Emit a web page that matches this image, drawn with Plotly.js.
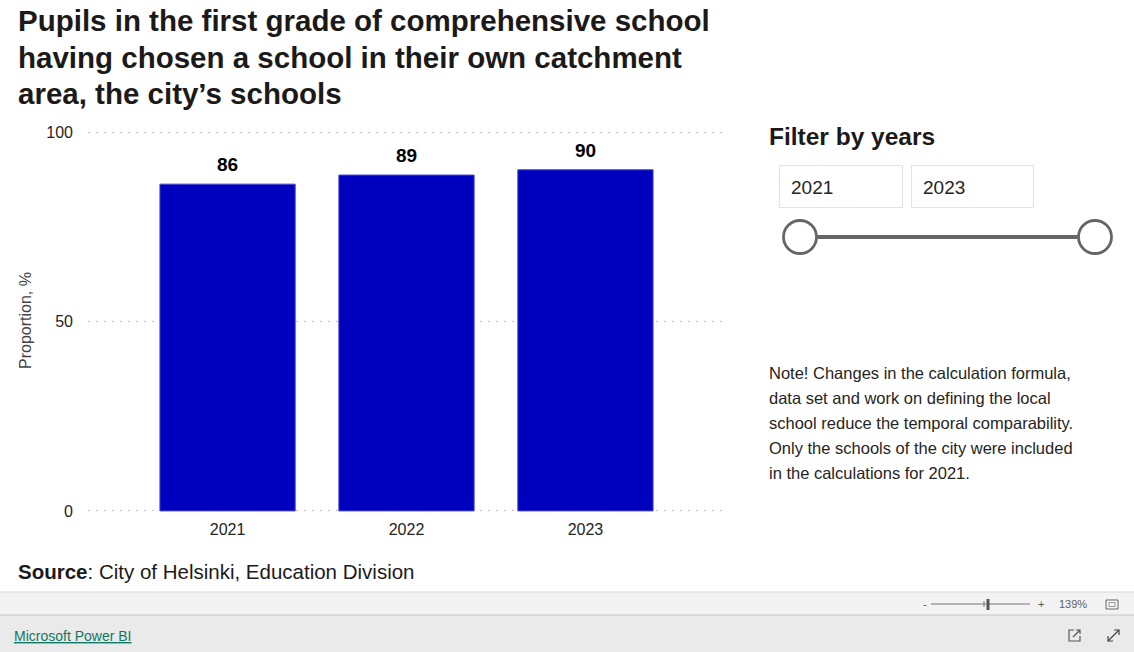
<!DOCTYPE html>
<html>
<head>
<meta charset="utf-8">
<script src="https://cdn.plot.ly/plotly-3.0.1.min.js"></script>
<style>
  html, body { margin: 0; padding: 0; background: #ffffff; }
  #chart { width: 1134px; height: 652px; }
</style>
</head>
<body>
<div id="chart"></div>
<script>
// ---- Data ----
const years = ['2021', '2022', '2023'];
const shares = [86.4, 88.8, 90.2];
const yTickVals = [0, 50, 100];
const yTickText = ['0', '50', '100'];
const filterFrom = '2021';
const filterTo = '2023';
const titleLines = [
  'Pupils in the first grade of comprehensive school',
  'having chosen a school in their own catchment',
  'area, the city\u2019s schools'
];
const noteLines = [
  'Note! Changes in the calculation formula,',
  'data set and work on defining the local',
  'school reduce the temporal comparability.',
  'Only the schools of the city were included',
  'in the calculations for 2021.'
];
const yAxisTitle = 'Proportion, %';
const sourceLabel = 'Source';
const sourceText = ': City of Helsinki, Education Division';

// ---- Layout helpers (pixel -> paper) ----
const W = 1134, H = 652;
const L = 88, R = 725, T = 131, B = 513;
const fx = px => (px - L) / (R - L);
const fy = py => (B - py) / (B - T);
const SANS = 'Liberation Sans, Arial, sans-serif';
const TXT = '#252423';

function label(px, py, text, size, opts) {
  opts = opts || {};
  return Object.assign({
    xref: 'paper', yref: 'paper', x: fx(px), y: fy(py),
    xanchor: 'left', yanchor: 'middle', showarrow: false, text: text,
    borderpad: 0,
    font: { family: SANS, size: size, color: opts.color || TXT }
  }, opts.extra || {});
}
function rect(x0, y0, x1, y1, fill, line, lw) {
  return { type: 'rect', xref: 'paper', yref: 'paper',
    x0: fx(x0), x1: fx(x1), y0: fy(y0), y1: fy(y1),
    fillcolor: fill || 'rgba(0,0,0,0)', line: { color: line || 'rgba(0,0,0,0)', width: lw || 0 }, layer: 'above' };
}
function seg(x0, y0, x1, y1, color, w) {
  return { type: 'line', xref: 'paper', yref: 'paper',
    x0: fx(x0), x1: fx(x1), y0: fy(y0), y1: fy(y1),
    line: { color: color, width: w }, layer: 'above' };
}
function circ(cx, cy, r, fill, color, w) {
  return { type: 'circle', xref: 'paper', yref: 'paper',
    x0: fx(cx - r), x1: fx(cx + r), y0: fy(cy + r), y1: fy(cy - r),
    fillcolor: fill, line: { color: color, width: w }, layer: 'above' };
}
function path(points, color, w, closed) {
  let d = points.map((p, i) => (i ? 'L' : 'M') + fx(p[0]) + ',' + fy(p[1])).join(' ');
  if (closed) d += ' Z';
  return { type: 'path', xref: 'paper', yref: 'paper', path: d,
    line: { color: color, width: w }, layer: 'above' };
}

// ---- Trace ----
const trace = {
  type: 'bar',
  x: years,
  y: shares,
  marker: { color: '#0000BF', line: { color: '#4646d2', width: 1 } },
  hoverinfo: 'x+y',
  cliponaxis: false
};

// ---- Annotations ----
const annotations = [];
titleLines.forEach((t, i) => {
  annotations.push(label(17, 20 + 37 * i, '<b>' + t + '</b>', 29.5, { color: '#1b1a19' }));
});
// value labels on bars (data coordinates: category index, value)
years.forEach((yr, i) => {
  annotations.push({
    xref: 'x', yref: 'y', x: i, y: shares[i], yanchor: 'bottom', xanchor: 'center',
    yshift: 7, showarrow: false,
    text: '<b>' + Math.round(shares[i]) + '</b>',
    font: { family: SANS, size: 19, color: '#000000' }
  });
});
annotations.push(label(25, 321, yAxisTitle, 16, { color: '#444444', extra: { textangle: -90, xanchor: 'center' } }));
annotations.push(label(768, 136, '<b>Filter by years</b>', 24.5, { color: '#1b1a19' }));
annotations.push(label(790, 187, filterFrom, 19));
annotations.push(label(922, 187, filterTo, 19));
noteLines.forEach((t, i) => {
  annotations.push(label(768, 373 + 25 * i, t, 16.5));
});
annotations.push(label(17, 571, '<b>' + sourceLabel + '</b>' + sourceText, 20.5, { color: '#1b1a19' }));
// Power BI chrome text
annotations.push(label(925, 604, '-', 11, { color: '#555555', extra: { xanchor: 'center' } }));
annotations.push(label(1041, 604, '+', 11, { color: '#555555', extra: { xanchor: 'center' } }));
annotations.push(label(1073, 604, '139%', 11, { color: '#605e5c', extra: { xanchor: 'center' } }));
annotations.push(label(13, 636, '<u>Microsoft Power BI</u>', 14, { color: '#117865' }));

// ---- Shapes ----
const shapes = [];
// filter boxes
shapes.push(rect(779.5, 165.5, 902.5, 207.5, '#ffffff', '#e3e3e3', 1.2));
shapes.push(rect(911.5, 165.5, 1033.5, 207.5, '#ffffff', '#e3e3e3', 1.2));
// slider
shapes.push(seg(800, 237, 1095, 237, '#666666', 4));
shapes.push(circ(800, 237, 16.5, '#ffffff', '#666666', 2.8));
shapes.push(circ(1095, 237, 16.5, '#ffffff', '#666666', 2.8));
// bottom bars
shapes.push(rect(0, 592, W, 615, '#f3f3f3', null, 0));
shapes.push(rect(0, 615, W, H, '#eaeaea', null, 0));
shapes.push(seg(0, 592, W, 592, '#dadada', 1));
shapes.push(seg(0, 615, W, 615, '#c6c6c6', 1));
// zoom slider widget
shapes.push(seg(931, 604, 1030, 604, '#777777', 1));
shapes.push(seg(984, 601, 984, 607, '#777777', 1));
shapes.push(rect(986.5, 599, 989.5, 610, '#555555', null, 0));
// fit-to-page icon
shapes.push(rect(1106, 600, 1118, 609, 'rgba(0,0,0,0)', '#666666', 1));
shapes.push(rect(1109, 602.5, 1115, 606.5, 'rgba(0,0,0,0)', '#999999', 1));
// share icon
shapes.push(path([[1074, 630], [1069, 630], [1069, 641], [1080, 641], [1080, 636]], '#555555', 1.2, false));
shapes.push(path([[1073, 637], [1080, 630]], '#555555', 1.2, false));
shapes.push(path([[1076, 630], [1080, 630], [1080, 634]], '#555555', 1.2, false));
// expand icon
shapes.push(path([[1108, 641], [1119, 630]], '#444444', 1.2, false));
shapes.push(path([[1114, 630], [1119, 630], [1119, 635]], '#444444', 1.2, false));
shapes.push(path([[1108, 636], [1108, 641], [1113, 641]], '#444444', 1.2, false));

const layout = {
  width: W, height: H,
  margin: { l: L, r: W - R, t: T, b: H - B, pad: 0 },
  paper_bgcolor: '#ffffff',
  plot_bgcolor: '#ffffff',
  showlegend: false,
  bargap: 0.244,
  font: { family: SANS, color: TXT },
  xaxis: {
    type: 'category',
    range: [-0.78, 2.78],
    showgrid: false, zeroline: false, showline: false,
    ticks: '', ticklabelstandoff: 5,
    tickfont: { family: SANS, size: 16, color: '#252423' },
    fixedrange: true
  },
  yaxis: {
    range: [-0.55, 100.45],
    tickmode: 'array', tickvals: yTickVals, ticktext: yTickText,
    showgrid: true, gridcolor: '#bdbdbd', gridwidth: 1.3, griddash: '1.5px,6.5px',
    zeroline: false, showline: false, ticks: '',
    ticklabelstandoff: 14,
    tickfont: { family: SANS, size: 16, color: '#252423' },
    fixedrange: true
  },
  annotations: annotations,
  shapes: shapes
};

Plotly.newPlot('chart', [trace], layout, { displayModeBar: false });
</script>
</body>
</html>
